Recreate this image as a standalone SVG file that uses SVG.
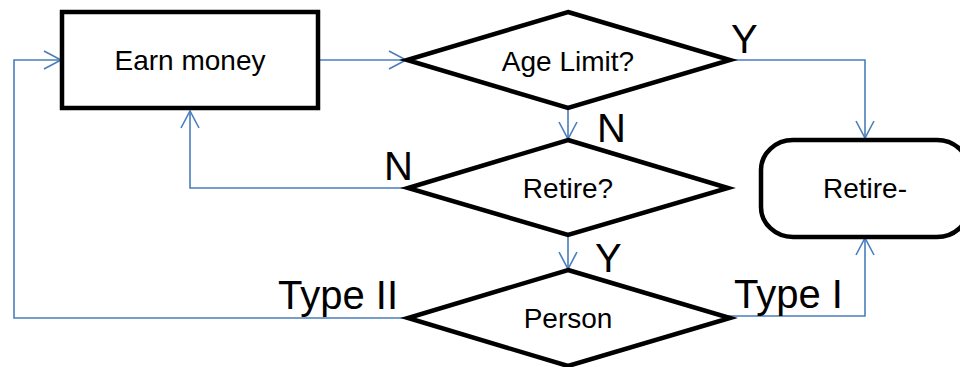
<svg xmlns="http://www.w3.org/2000/svg" width="960" height="367" viewBox="0 0 960 367">
<style>
.shape{fill:#fff;stroke:#000;stroke-width:4.5;stroke-linejoin:miter}
.txt{font-family:"Liberation Sans",Arial,sans-serif;font-size:28px;fill:#000;text-anchor:middle}
.lbl{font-family:"Liberation Sans",Arial,sans-serif;font-size:40px;fill:#000}
.conn{fill:none;stroke:#4a7ebb;stroke-width:1.6}
</style>
<defs>
<marker id="arr" viewBox="0 0 20 20" refX="18" refY="10" markerWidth="20" markerHeight="20" markerUnits="userSpaceOnUse" orient="auto">
<path d="M1,1 L18,10 L1,19" fill="none" stroke="#4a7ebb" stroke-width="1.6"/>
</marker>
</defs>
<g id="connectors">
<path class="conn" d="M318,60 L406,60" marker-end="url(#arr)"/>
<path class="conn" d="M730,60 L865,60 L865,138" marker-end="url(#arr)"/>
<path class="conn" d="M568,108 L568,139" marker-end="url(#arr)"/>
<path class="conn" d="M408,188 L190,188 L190,111" marker-end="url(#arr)"/>
<path class="conn" d="M568,235 L568,269" marker-end="url(#arr)"/>
<path class="conn" d="M408,318 L14,318 L14,60 L61,60" marker-end="url(#arr)"/>
<path class="conn" d="M697,316 L865,316 L865,238" marker-end="url(#arr)"/>
</g>
<g id="earn">
<rect class="shape" x="62" y="12" width="256" height="96"/>
<text class="txt" x="190" y="70">Earn money</text>
</g>
<g id="age">
<polygon class="shape" points="568,12 730,60 568,108 407,60"/>
<text class="txt" x="568" y="71">Age Limit?</text>
</g>
<g id="retireq">
<polygon class="shape" points="568,140 728,188 568,235 408,188"/>
<text class="txt" x="568" y="198">Retire?</text>
</g>
<g id="person">
<polygon class="shape" points="568,270 730,318 568,366 408,318"/>
<text class="txt" x="568" y="328">Person</text>
</g>
<g id="retire">
<rect class="shape" x="761" y="140" width="208" height="97" rx="32" ry="30"/>
<text class="txt" x="865" y="198">Retire-</text>
</g>
<g id="labels">
<text class="lbl" x="731" y="53">Y</text>
<text class="lbl" x="597" y="142">N</text>
<text class="lbl" x="384" y="180">N</text>
<text class="lbl" x="595" y="272">Y</text>
<text class="lbl" x="278" y="309">Type II</text>
<text class="lbl" x="734" y="308">Type I</text>
</g>
</svg>
